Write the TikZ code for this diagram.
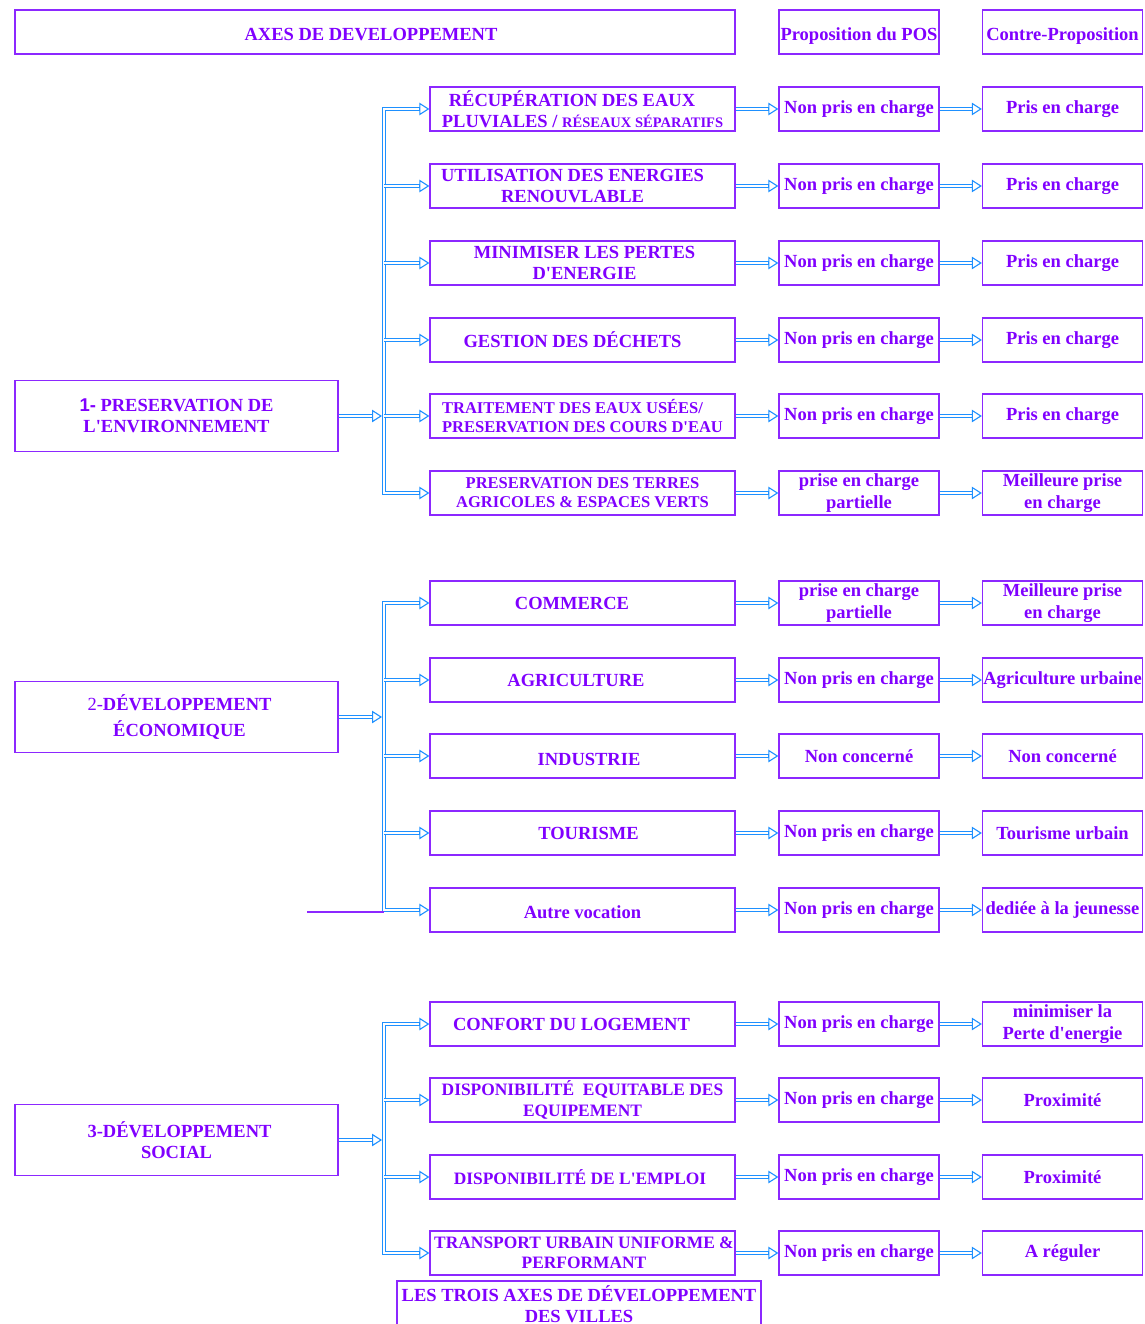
\documentclass[tikz,border=0pt]{standalone}
\usepackage{fontspec}
\setmainfont{Liberation Serif}[Ligatures=TeXOff]
\newfontfamily\numsans{Liberation Sans}
\usetikzlibrary{arrows.meta}

\definecolor{txtc}{RGB}{128,0,255}
\definecolor{boxc}{RGB}{140,40,255}
\definecolor{arrc}{RGB}{30,144,255}

\newcommand\bigsz{\fontsize{18.5}{21.5}\selectfont}
\newcommand\lowsz{\fontsize{17.4}{20.5}\selectfont}
\newcommand\midsz{\fontsize{16.5}{19}\selectfont}
\newcommand\smsz{\fontsize{14.5}{17}\selectfont}
% invisible spacer used to offset a centred line
\newcommand\gap[1]{\rule{#1}{0pt}}

\tikzset{
  box/.style={draw=boxc, line width=1.3pt, text=txtc, font=\bfseries\bigsz,
    align=center, inner sep=0pt, minimum height=44pt},
  midbox/.style={box, minimum width=305pt},
  posbox/.style={box, minimum width=160pt},
  axebox/.style={box, minimum width=323pt, minimum height=71pt},
  lowtext/.style={text height=16.5pt, text depth=0pt},
  shaft/.style={draw=arrc, line width=1.1pt, double=white, double distance=2.5pt, line join=miter},
  tiphead/.style={draw=arrc, line width=1.1pt, -{Triangle[open,length=10pt,width=12.5pt]}},
  stubline/.style={draw=boxc, line width=1.2pt},
}

% open triangle tip ending at a node anchor
\newcommand\tipat[1]{\draw[tiphead] ([xshift=-10pt]#1) -- (#1);}
% double-line connector ending in an open triangle at a node anchor
\newcommand\dblarrow[2]{%
  \draw[shaft, shorten >=9.5pt] (#1) -- (#2);
  \tipat{#2}}

% one row: theme box, POS box, counter-proposal box and the two links
\newcommand\diagrow[6]{%
  \node[midbox,#3] (m#1) at (582.5,#2) {#4};
  \node[posbox] (p#1) at (859,#2) {#5};
  \node[posbox] (c#1) at (1062.5,#2) {#6};
  \dblarrow{m#1.east}{p#1.west}
  \dblarrow{p#1.east}{c#1.west}}

\begin{document}
\begin{tikzpicture}[x=1pt,y=-1pt]
\useasboundingbox (0,0) rectangle (1144,1324);

% header row
\node[box, lowtext, minimum width=720pt] (axes) at (375,32) {AXES DE DEVELOPPEMENT\gap{8pt}};
\node[posbox, lowtext] (hpos) at (859,32) {Proposition du POS};
\node[posbox, lowtext] (hctr) at (1062.5,32) {Contre-Proposition};

% 1 - environment
\diagrow{1}{109}{}{RÉCUPÉRATION DES EAUX\gap{21pt}\\PLUVIALES / {\smsz RÉSEAUX SÉPARATIFS}}{Non pris en charge}{Pris en charge}
\diagrow{2}{186}{}{UTILISATION DES ENERGIES\gap{20pt}\\RENOUVLABLE\gap{20pt}}{Non pris en charge}{Pris en charge}
\diagrow{3}{263}{}{\gap{4pt}MINIMISER LES PERTES\\\gap{4pt}D'ENERGIE}{Non pris en charge}{Pris en charge}
\diagrow{4}{340}{}{GESTION DES DÉCHETS\gap{20pt}}{Non pris en charge}{Pris en charge}
\diagrow{5}{416}{font=\bfseries\midsz, align=left}{TRAITEMENT DES EAUX USÉES/\\PRESERVATION DES COURS D'EAU}{Non pris en charge}{Pris en charge}
\diagrow{6}{493}{font=\bfseries\midsz}{PRESERVATION DES TERRES\\AGRICOLES \& ESPACES VERTS}{prise en charge\\partielle}{Meilleure prise\\en charge}

% 2 - economy
\diagrow{7}{603}{}{COMMERCE\gap{21pt}}{prise en charge\\partielle}{Meilleure prise\\en charge}
\diagrow{8}{680}{}{AGRICULTURE\gap{13pt}}{Non pris en charge}{Agriculture urbaine}
\diagrow{9}{756}{text height=19pt, text depth=0pt}{\gap{13pt}INDUSTRIE}{Non concerné}{Non concerné}
\diagrow{10}{833}{}{\gap{12pt}TOURISME}{Non pris en charge}{Tourisme urbain}
\diagrow{11}{910}{lowtext}{Autre vocation}{Non pris en charge}{dediée à la jeunesse}

% 3 - social
\diagrow{12}{1024}{}{CONFORT DU LOGEMENT\gap{22pt}}{Non pris en charge}{minimiser la\\Perte d'energie}
\diagrow{13}{1100}{font=\bfseries\lowsz}{DISPONIBILITÉ\ \ EQUITABLE DES\\EQUIPEMENT}{Non pris en charge}{Proximité}
\diagrow{14}{1177}{font=\bfseries\lowsz}{DISPONIBILITÉ DE L'EMPLOI\gap{5pt}}{Non pris en charge}{Proximité}
\diagrow{15}{1253}{font=\bfseries\lowsz}{\gap{3pt}TRANSPORT URBAIN UNIFORME \&\\\gap{3pt}PERFORMANT}{Non pris en charge}{A réguler}

% the three axes
\node[axebox] (L1) at (176.5,416) {{\numsans 1-} PRESERVATION DE\\L'ENVIRONNEMENT};
\node[axebox] (L2) at (176.5,717) {\gap{6pt}{\mdseries 2-}DÉVELOPPEMENT\\[5pt]\gap{6pt}ÉCONOMIQUE};
\node[axebox] (L3) at (176.5,1140) {\gap{6pt}3-DÉVELOPPEMENT\\SOCIAL};

% caption
\node[box, minimum width=364pt, minimum height=46pt] (cap) at (579,1304)
  {LES TROIS AXES DE DÉVELOPPEMENT\\DES VILLES};

% distribution buses, first and last branch drawn with the bus as one path
\coordinate (jx) at (382,0);
\coordinate (bus1) at (384,0);
\coordinate (bus2) at (384,0);
\coordinate (bus3) at (384,0);
\draw[shaft] ([xshift=-9.5pt]m1.west) -- (bus1 |- m1.west) -- (bus1 |- m6.west) -- ([xshift=-9.5pt]m6.west);
\draw[shaft] ([xshift=-9.5pt]m7.west) -- (bus2 |- m7.west) -- (bus2 |- m11.west) -- ([xshift=-9.5pt]m11.west);
\draw[shaft] ([xshift=-9.5pt]m12.west) -- (bus3 |- m12.west) -- (bus3 |- m15.west) -- ([xshift=-9.5pt]m15.west);
\foreach \i in {1,6,7,11,12,15} {\tipat{m\i.west}}

% inner branches
\foreach \i in {2,...,5} {\dblarrow{bus1 |- m\i.west}{m\i.west}}
\foreach \i in {8,...,10} {\dblarrow{bus2 |- m\i.west}{m\i.west}}
\foreach \i in {13,14} {\dblarrow{bus3 |- m\i.west}{m\i.west}}

% axis box to bus
\coordinate (j1) at (L1.east -| jx);
\coordinate (j2) at (L2.east -| jx);
\coordinate (j3) at (L3.east -| jx);
\dblarrow{L1.east}{j1}
\dblarrow{L2.east}{j2}
\dblarrow{L3.east}{j3}

% short rule under the economy bus
\coordinate (stubend) at (307,912);
\draw[stubline] (stubend) -- (stubend -| bus2);
\end{tikzpicture}
\end{document}
